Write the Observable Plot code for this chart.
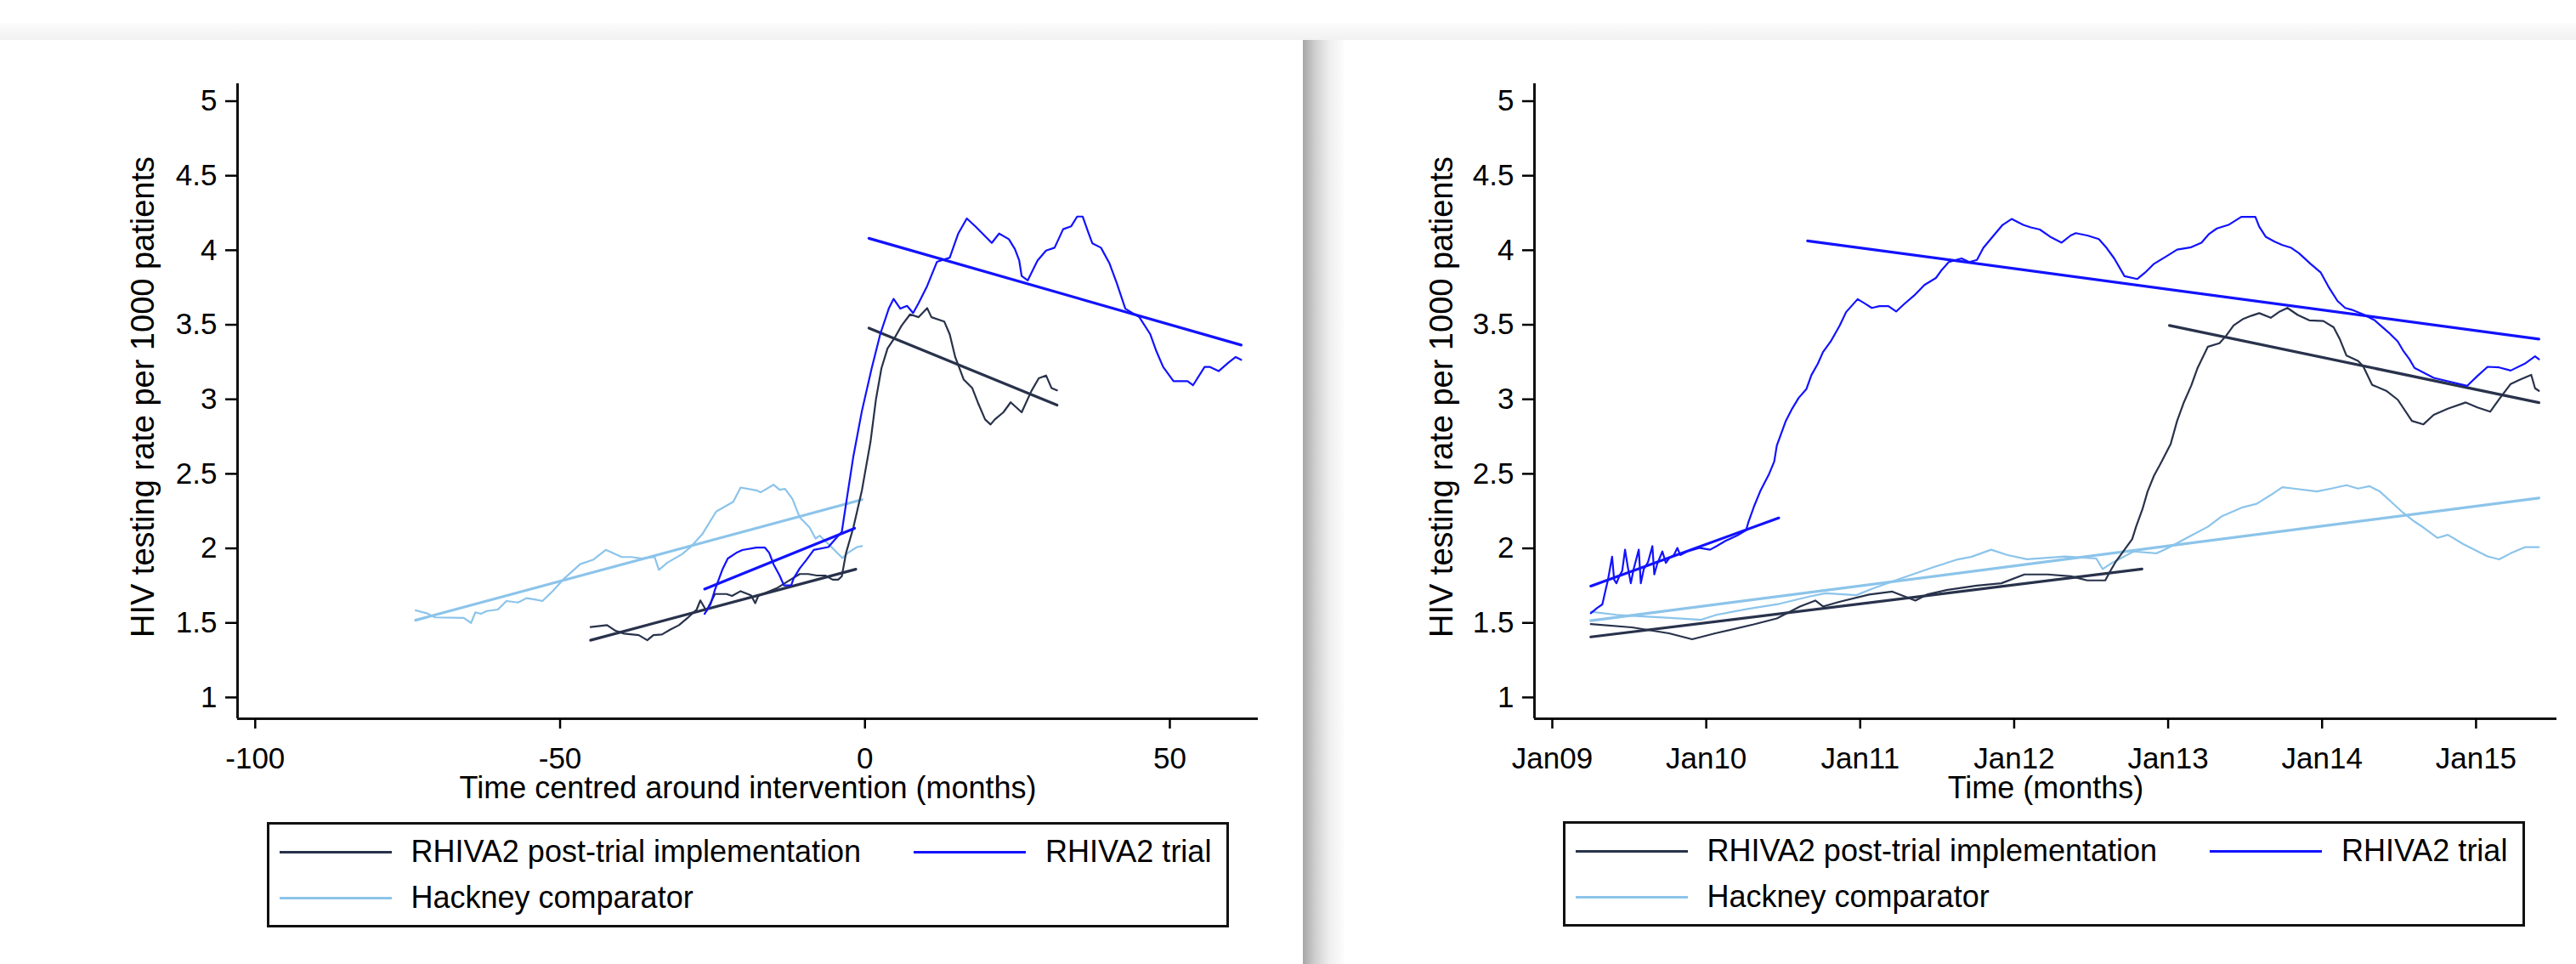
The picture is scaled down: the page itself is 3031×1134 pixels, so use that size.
<!DOCTYPE html>
<html>
<head>
<meta charset="utf-8">
<script src="https://cdn.jsdelivr.net/npm/d3@7"></script>
<script src="https://cdn.jsdelivr.net/npm/@observablehq/plot@0.6"></script>
<style>
html, body { margin: 0; padding: 0; background: #fff; }
#page { position: relative; width: 3031px; height: 1134px; overflow: hidden; background: #fff; font-family: "Liberation Sans", Arial, sans-serif; }
.band { position: absolute; left: 0; top: 27px; width: 3031px; height: 20px; background: linear-gradient(#fcfcfc, #f1f1f1); }
.card { position: absolute; top: 47px; height: 1087px; background: #fff; }
#cardL { left: 102px; width: 1431px; }
#cardR { left: 1627px; width: 1404px; }
#shadowL { position: absolute; left: 1533px; top: 47px; width: 48px; height: 1087px;
  background: linear-gradient(to right, #a6a6a6, #cfcfcf 30%, #efefef 65%, #fcfcfc); }
.plot { position: absolute; top: 47px; }
.legend { position: absolute; width: 1132px; height: 124px; box-sizing: border-box; border: 3px solid #111; background: #fff; }
.item { position: absolute; height: 44px; display: flex; align-items: center; font-size: 36px; color: #000; white-space: nowrap; }
.item .swatch { width: 132px; height: 0; border-top: 3px solid; margin-right: 23px; }
</style>
</head>
<body>
<div id="page">
  <div class="band"></div>
  <div class="card" id="cardL"></div>
  <div id="shadowL"></div>
  <div class="card" id="cardR"></div>
  <div class="plot" id="plotL" style="left:102px"></div>
  <div class="plot" id="plotR" style="left:1627px"></div>
  <div class="legend" id="legL" style="left:314px; top:967px"></div>
  <div class="legend" id="legR" style="left:1839px; top:966px"></div>
</div>
<script>
// ---------- labels ----------
const seriesNames = ["RHIVA2 post-trial implementation", "RHIVA2 trial", "Hackney comparator"];
const yLabel = "HIV testing rate per 1000 patients";
const xLabelLeft = "Time centred around intervention (months)";
const xLabelRight = "Time (months)";

// ---------- ticks ----------
const yTicks = [1, 1.5, 2, 2.5, 3, 3.5, 4, 4.5, 5];
const yTickLabels = ["1", "1.5", "2", "2.5", "3", "3.5", "4", "4.5", "5"];
const xTicksLeft = [-100, -50, 0, 50];
const xTickLabelsLeft = ["-100", "-50", "0", "50"];
const xTicksRight = [0, 12, 24, 36, 48, 60, 72]; // months since Jan 2009
const xTickLabelsRight = ["Jan09", "Jan10", "Jan11", "Jan12", "Jan13", "Jan14", "Jan15"];

// ---------- LEFT panel data: [months relative to intervention, rate] ----------
const leftHackneyRaw = [[-73.7,1.584],[-71.9,1.565],[-70.5,1.537],[-65.8,1.533],[-64.6,1.500],[-63.9,1.571],[-63.0,1.561],[-62.0,1.580],[-60.2,1.590],[-58.8,1.647],[-56.9,1.637],[-55.5,1.666],[-54.0,1.656],[-52.9,1.647],[-51.2,1.714],[-49.3,1.799],[-46.7,1.894],[-44.6,1.923],[-42.5,1.990],[-39.9,1.942],[-38.3,1.942],[-36.6,1.932],[-34.5,1.942],[-33.8,1.856],[-32.4,1.904],[-30.0,1.961],[-28.6,2.009],[-26.7,2.094],[-24.4,2.247],[-21.6,2.313],[-20.4,2.408],[-17.8,2.389],[-17.1,2.376],[-15.0,2.427],[-14.0,2.393],[-13.1,2.399],[-11.9,2.332],[-10.7,2.208],[-9.1,2.142],[-8.1,2.066],[-7.4,2.085],[-5.5,2.009],[-3.7,1.935],[-2.8,1.970],[-1.3,2.009],[-0.5,2.015]];
const leftHackneyFit = [[-73.7,1.518],[-0.5,2.327]];

const leftPostRaw = [[-45.0,1.472],[-42.3,1.485],[-40.9,1.447],[-39.5,1.428],[-37.1,1.418],[-35.7,1.384],[-34.7,1.418],[-33.3,1.422],[-31.9,1.456],[-30.5,1.485],[-29.1,1.533],[-27.6,1.590],[-27.0,1.651],[-26.0,1.580],[-24.6,1.694],[-22.7,1.694],[-21.8,1.681],[-20.4,1.713],[-18.7,1.685],[-18.0,1.632],[-17.5,1.681],[-14.5,1.732],[-12.6,1.780],[-10.7,1.828],[-9.3,1.828],[-7.9,1.818],[-6.5,1.818],[-5.3,1.790],[-4.4,1.790],[-3.8,1.812],[-3.1,1.970],[-1.9,2.140],[-0.5,2.390],[0.9,2.713],[1.8,2.999],[2.7,3.208],[3.7,3.341],[4.8,3.408],[6.0,3.494],[7.4,3.570],[8.8,3.551],[10.2,3.612],[10.9,3.551],[13.0,3.522],[13.9,3.436],[14.8,3.284],[16.2,3.132],[17.6,3.075],[18.5,2.980],[19.7,2.865],[20.6,2.831],[21.3,2.865],[22.7,2.913],[23.9,2.980],[25.7,2.913],[27.3,3.056],[28.5,3.141],[29.7,3.160],[30.6,3.075],[31.5,3.060]];
const leftPostFitPre = [[-45.0,1.384],[-1.5,1.860]];
const leftPostFitPost = [[0.65,3.478],[31.5,2.961]];

const leftTrialRaw = [[-26.3,1.561],[-25.3,1.628],[-24.6,1.723],[-23.4,1.856],[-22.5,1.932],[-21.1,1.970],[-20.1,1.989],[-17.8,2.005],[-16.4,2.005],[-15.7,1.970],[-15.0,1.894],[-14.0,1.818],[-13.3,1.752],[-12.1,1.752],[-11.7,1.799],[-10.7,1.866],[-9.6,1.923],[-8.4,1.990],[-6.0,2.009],[-4.6,2.075],[-3.8,2.110],[-3.1,2.300],[-1.9,2.618],[-0.5,2.922],[1.1,3.208],[2.5,3.436],[3.9,3.608],[4.7,3.674],[5.8,3.608],[6.9,3.627],[7.9,3.579],[8.8,3.646],[10.2,3.760],[11.8,3.922],[13.9,3.950],[15.3,4.112],[16.7,4.213],[18.1,4.160],[20.8,4.049],[22.0,4.112],[23.6,4.074],[24.6,4.007],[25.3,3.931],[25.7,3.827],[26.7,3.798],[28.3,3.931],[29.7,3.998],[31.1,4.017],[32.5,4.141],[33.8,4.160],[34.8,4.226],[35.7,4.226],[36.6,4.122],[37.3,4.046],[38.7,4.017],[40.1,3.912],[41.3,3.779],[42.7,3.608],[45.0,3.551],[46.8,3.436],[47.8,3.322],[48.9,3.217],[50.6,3.122],[52.9,3.122],[53.8,3.094],[55.7,3.217],[56.6,3.217],[58.0,3.189],[59.6,3.246],[60.8,3.284],[61.7,3.265]];
const leftTrialFitPre = [[-26.3,1.727],[-1.7,2.135]];
const leftTrialFitPost = [[0.65,4.080],[61.7,3.364]];

// ---------- RIGHT panel data: [months since Jan 2009, rate] ----------
const rightHackneyRaw = [[3.0,1.575],[5.0,1.554],[9.2,1.534],[11.6,1.521],[12.8,1.554],[15.3,1.595],[17.7,1.628],[20.1,1.678],[21.3,1.699],[23.7,1.686],[24.9,1.728],[27.3,1.802],[29.8,1.876],[31.6,1.926],[32.7,1.944],[34.2,1.991],[35.5,1.955],[37.0,1.927],[40.0,1.945],[42.4,1.932],[42.9,1.861],[43.5,1.896],[45.3,1.979],[47.1,1.967],[48.0,2.003],[49.8,2.086],[51.1,2.145],[52.2,2.216],[53.8,2.275],[54.9,2.299],[56.0,2.358],[56.9,2.410],[57.8,2.401],[59.6,2.382],[60.7,2.401],[61.9,2.424],[62.8,2.401],[63.7,2.417],[64.5,2.382],[65.4,2.311],[66.3,2.240],[67.2,2.180],[67.9,2.140],[69.0,2.070],[69.8,2.091],[71.0,2.029],[72.9,1.946],[73.8,1.926],[74.7,1.967],[75.8,2.008],[76.9,2.008]];
const rightHackneyFit = [[3.0,1.515],[76.9,2.338]];

const rightPostRaw = [[3.0,1.492],[6.2,1.470],[9.1,1.430],[10.9,1.390],[12.7,1.430],[15.7,1.490],[17.5,1.530],[19.3,1.610],[20.5,1.650],[21.1,1.610],[22.3,1.640],[24.7,1.690],[26.5,1.710],[28.3,1.650],[29.2,1.690],[30.7,1.720],[33.1,1.750],[35.0,1.766],[36.8,1.825],[38.6,1.825],[40.4,1.813],[41.7,1.785],[43.1,1.785],[43.5,1.849],[43.9,1.908],[44.6,1.991],[45.2,2.062],[45.5,2.145],[46.0,2.263],[46.4,2.382],[46.9,2.488],[47.5,2.583],[48.2,2.701],[48.7,2.855],[49.2,2.974],[49.8,3.092],[50.3,3.211],[51.1,3.353],[52.0,3.376],[52.5,3.424],[53.1,3.495],[53.8,3.537],[54.5,3.561],[55.1,3.578],[56.0,3.547],[56.7,3.589],[57.3,3.613],[58.1,3.566],[59.0,3.530],[60.1,3.525],[60.9,3.483],[61.4,3.400],[61.9,3.293],[62.8,3.258],[63.2,3.222],[63.9,3.097],[65.0,3.057],[65.9,2.997],[67.0,2.855],[67.9,2.832],[68.7,2.896],[69.8,2.937],[71.2,2.979],[72.1,2.946],[73.1,2.917],[73.8,3.000],[74.7,3.103],[75.4,3.131],[76.3,3.164],[76.6,3.074],[76.9,3.057]];
const rightPostFitPre = [[3.0,1.406],[45.96,1.861]];
const rightPostFitPost = [[48.1,3.495],[76.9,2.978]];

const rightTrialRaw = [[3.0,1.565],[3.5,1.600],[3.9,1.624],[4.15,1.719],[4.33,1.785],[4.66,1.944],[4.82,1.790],[5.0,1.766],[5.22,1.813],[5.45,1.849],[5.67,1.991],[5.89,1.873],[6.12,1.766],[6.34,1.861],[6.74,1.991],[6.9,1.766],[7.13,1.861],[7.46,1.908],[7.8,2.015],[7.95,1.825],[8.18,1.896],[8.58,1.979],[8.85,1.903],[9.14,1.937],[9.48,1.955],[9.75,2.003],[9.97,1.955],[10.5,1.979],[11.5,2.003],[12.3,1.991],[12.8,2.015],[13.5,2.050],[14.4,2.086],[15.1,2.121],[15.3,2.180],[15.75,2.287],[16.2,2.382],[16.9,2.500],[17.3,2.583],[17.5,2.690],[17.9,2.784],[18.2,2.855],[18.7,2.938],[19.2,3.009],[19.8,3.068],[20.2,3.163],[20.7,3.239],[21.1,3.317],[21.7,3.388],[22.4,3.495],[22.9,3.585],[23.8,3.672],[24.4,3.641],[24.9,3.613],[25.5,3.625],[26.2,3.625],[26.8,3.589],[27.4,3.637],[28.2,3.696],[29.0,3.767],[29.9,3.814],[30.3,3.862],[30.9,3.921],[31.4,3.933],[31.9,3.945],[32.5,3.921],[33.1,3.935],[33.6,4.016],[34.4,4.099],[35.1,4.170],[35.8,4.210],[36.7,4.170],[37.3,4.153],[38.0,4.139],[38.8,4.091],[39.7,4.051],[40.4,4.099],[40.8,4.115],[41.7,4.099],[42.6,4.075],[43.2,4.016],[43.8,3.945],[44.6,3.826],[45.6,3.807],[46.2,3.850],[46.9,3.909],[47.8,3.956],[48.7,4.004],[49.8,4.020],[50.6,4.051],[51.2,4.110],[51.8,4.146],[52.7,4.170],[53.7,4.224],[54.8,4.224],[55.1,4.158],[55.6,4.091],[56.3,4.058],[56.9,4.035],[57.6,4.016],[58.2,3.980],[59.1,3.909],[59.9,3.850],[60.5,3.755],[61.2,3.660],[61.8,3.613],[62.3,3.601],[63.2,3.570],[64.1,3.530],[65.2,3.447],[65.9,3.388],[66.3,3.329],[66.8,3.270],[67.2,3.211],[67.9,3.180],[68.7,3.144],[70.1,3.115],[71.3,3.090],[72.1,3.156],[72.9,3.218],[73.8,3.214],[74.7,3.193],[75.8,3.239],[76.6,3.288],[76.9,3.268]];
const rightTrialFitPre = [[3.0,1.747],[17.65,2.204]];
const rightTrialFitPost = [[19.9,4.063],[76.9,3.404]];

// ---------- styling (not data) ----------
const colors = {post: "#28324b", trial: "#1212ff", hackney: "#8cc4ea"};
const yDomain = [0.857, 5.117];
const xDomainLeft = [-102.9, 64.5];
const xDomainRight = [-1.39, 78.3];
const FONT = '"Liberation Sans", Arial, sans-serif';

function panel({xDomain, xTicks, xTickLabels, xLabel, series, width, marginLeft, marginRight, yLabelDx}) {
  const toObj = arr => arr.map(([t, v]) => ({t, v}));
  const marks = [];
  for (const s of series) {
    marks.push(Plot.line(toObj(s.data), {x: "t", y: "v", stroke: s.color, strokeWidth: s.fit ? 3.2 : 2.2, strokeLinejoin: "round", strokeLinecap: "round"}));
  }
  marks.push(Plot.ruleY([yDomain[0]], {stroke: "#111", strokeWidth: 3}));
  marks.push(Plot.ruleX([xDomain[0]], {stroke: "#111", strokeWidth: 3}));
  marks.push(Plot.axisX({ticks: xTicks, tickFormat: d => xTickLabels[xTicks.indexOf(d)], tickSize: 12, tickPadding: 22, strokeWidth: 2.5, label: null, fill: "#000"}));
  marks.push(Plot.axisY({ticks: yTicks, tickFormat: d => yTickLabels[yTicks.indexOf(d)], tickSize: 14, tickPadding: 10, strokeWidth: 2.5, label: null, fill: "#000"}));
  marks.push(Plot.text([xLabel], {text: d => d, frameAnchor: "bottom", textAnchor: "middle", lineAnchor: "middle", dy: 82, fontSize: 36, fill: "#000"}));
  marks.push(Plot.text([yLabel], {text: d => d, frameAnchor: "left", textAnchor: "middle", lineAnchor: "middle", dx: yLabelDx, dy: -5, rotate: -90, fontSize: 38, fill: "#000"}));
  return Plot.plot({
    width, height: 910,
    marginTop: 51, marginBottom: 112, marginLeft, marginRight,
    x: {domain: xDomain},
    y: {domain: yDomain},
    style: {fontSize: "35px", fontFamily: FONT, color: "#000", background: "transparent", overflow: "visible"},
    marks
  });
}

const leftSeries = [
  {data: leftHackneyRaw, color: colors.hackney},
  {data: leftHackneyFit, color: colors.hackney, fit: true},
  {data: leftPostRaw, color: colors.post},
  {data: leftPostFitPre, color: colors.post, fit: true},
  {data: leftPostFitPost, color: colors.post, fit: true},
  {data: leftTrialRaw, color: colors.trial},
  {data: leftTrialFitPre, color: colors.trial, fit: true},
  {data: leftTrialFitPost, color: colors.trial, fit: true}
];
const rightSeries = [
  {data: rightHackneyRaw, color: colors.hackney},
  {data: rightHackneyFit, color: colors.hackney, fit: true},
  {data: rightPostRaw, color: colors.post},
  {data: rightPostFitPre, color: colors.post, fit: true},
  {data: rightPostFitPost, color: colors.post, fit: true},
  {data: rightTrialRaw, color: colors.trial},
  {data: rightTrialFitPre, color: colors.trial, fit: true},
  {data: rightTrialFitPost, color: colors.trial, fit: true}
];

document.getElementById("plotL").append(panel({
  xDomain: xDomainLeft, xTicks: xTicksLeft, xTickLabels: xTickLabelsLeft, xLabel: xLabelLeft,
  series: leftSeries, width: 1420, marginLeft: 177, marginRight: 42, yLabelDx: -111
}));
document.getElementById("plotR").append(panel({
  xDomain: xDomainRight, xTicks: xTicksRight, xTickLabels: xTickLabelsRight, xLabel: xLabelRight,
  series: rightSeries, width: 1404, marginLeft: 178, marginRight: 23, yLabelDx: -109
}));

// ---------- legends ----------
const legendItems = [
  {name: seriesNames[0], color: colors.post, left: 11.5, top: 10},
  {name: seriesNames[1], color: colors.trial, left: 758, top: 10},
  {name: seriesNames[2], color: colors.hackney, left: 11.5, top: 64}
];
for (const id of ["legL", "legR"]) {
  const box = document.getElementById(id);
  for (const it of legendItems) {
    const div = document.createElement("div");
    div.className = "item";
    div.style.left = it.left + "px";
    div.style.top = it.top + "px";
    const sw = document.createElement("span");
    sw.className = "swatch";
    sw.style.borderTopColor = it.color;
    const tx = document.createElement("span");
    tx.textContent = it.name;
    div.append(sw, tx);
    box.append(div);
  }
}
</script>
</body>
</html>
